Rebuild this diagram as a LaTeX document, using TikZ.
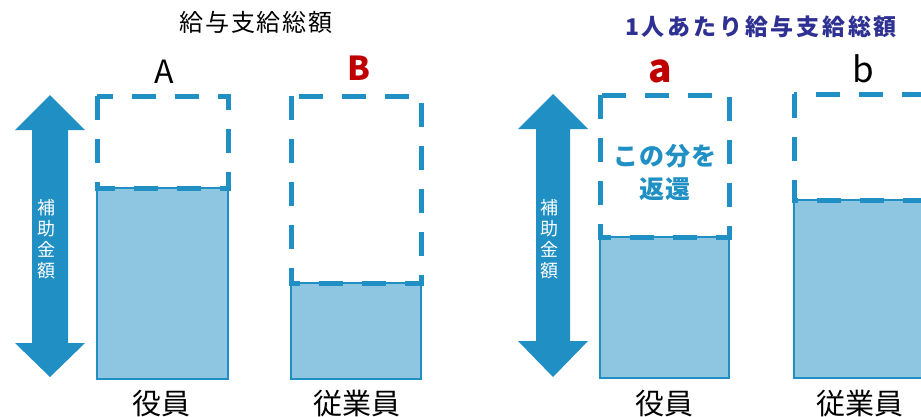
\documentclass[tikz,border=0pt]{standalone}
\usepackage{fontspec}
\setmainfont{Noto Sans CJK JP}
\newfontfamily\jp{Noto Sans CJK JP}
\definecolor{barblue}{HTML}{1F8FC4}
\definecolor{barfill}{HTML}{8EC6E1}
\definecolor{labred}{HTML}{C00000}
\definecolor{titleblue}{HTML}{2E3192}
\tikzset{
  barbox/.style={draw=barblue, line width=2pt, fill=barfill},
  dashbox/.style={draw=barblue, line width=5pt, dash pattern=on 24pt off 19pt},
  bigarrow/.style={fill=barblue, draw=none},
  txt/.style={inner sep=0pt, anchor=base},
  vtext/.style={inner sep=0pt, text=white, align=center, font=\fontsize{18}{21}\selectfont},
}
\begin{document}
\begin{tikzpicture}[x=1pt,y=-1pt]
\useasboundingbox (0,0) rectangle (921,416);
\clip (0,0) rectangle (921,416);
% titles
\node[txt, font=\fontsize{24}{28}\selectfont\addfontfeature{LetterSpace=8}] (t1) at (256,31) {給与支給総額};
\node[txt, text=titleblue, font=\fontsize{23}{27}\selectfont\bfseries\addfontfeature{LetterSpace=12}] (t2) at (761,35) {1人あたり給与支給総額};
% letters
\node[txt, font=\fontsize{32}{36}\selectfont] (lA) at (164,83) {A};
\node[txt, text=labred, font=\fontsize{33}{36}\selectfont\bfseries] (lB) at (359,80) {B};
\node[txt, text=labred, font=\fontsize{39}{42}\selectfont\bfseries] (la) at (660,82) {a};
\node[txt, font=\fontsize{35}{38}\selectfont] (lb) at (863,82) {b};
% arrows
\path[bigarrow] (50,95) -- (85,130) -- (68,130) -- (68,343) -- (85,343) -- (50,377) -- (15,343) -- (32,343) -- (32,130) -- (15,130) -- cycle;
\path[bigarrow] (553,94) -- (588,129) -- (570,129) -- (570,341) -- (588,341) -- (553,377) -- (518,341) -- (536,341) -- (536,129) -- (518,129) -- cycle;
\node[vtext] (v1) at (46,239) {補\\助\\金\\額};
\node[vtext] (v2) at (549,239) {補\\助\\金\\額};
% bars
\draw[barbox] (97,188) rectangle (228,379);
\draw[dashbox] (97,96) rectangle (228,188);
\draw[barbox] (291,283) rectangle (421,379);
\draw[dashbox] (291,96) rectangle (421,283);
\draw[barbox] (600,237) rectangle (729,378);
\draw[dashbox] (600,95) rectangle (729,237);
\draw[barbox] (794,200) rectangle (926,378);
\draw[dashbox] (794,94) rectangle (926,200);
% inner note
\node[inner sep=0pt, text=barblue, align=center, font=\fontsize{25}{33}\selectfont\bfseries\addfontfeature{LetterSpace=3}] (note) at (665,172) {この分を\\返還};
% bottom labels
\node[txt, font=\fontsize{29}{32}\selectfont] (g1) at (161,414) {役員};
\node[txt, font=\fontsize{29}{32}\selectfont] (g2) at (357,414) {従業員};
\node[txt, font=\fontsize{29}{32}\selectfont] (g3) at (664,414) {役員};
\node[txt, font=\fontsize{29}{32}\selectfont] (g4) at (860,414) {従業員};
\end{tikzpicture}
\end{document}
